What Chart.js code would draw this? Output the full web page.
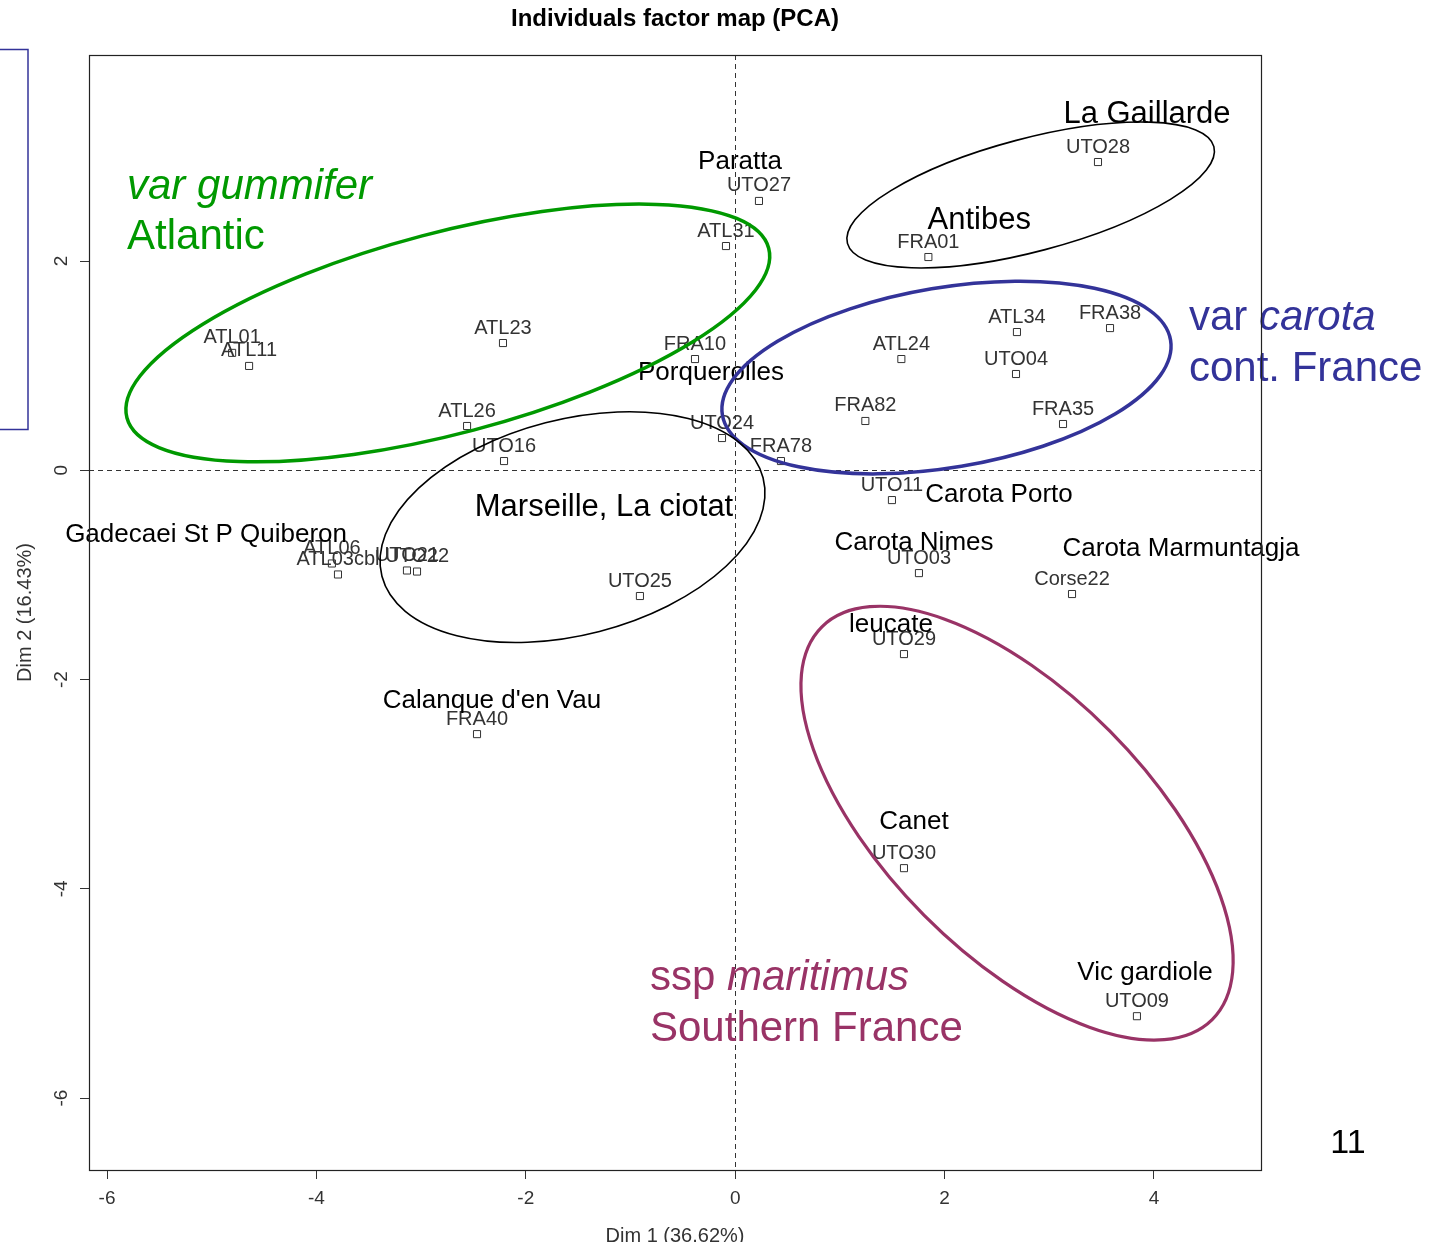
<!DOCTYPE html>
<html><head><meta charset="utf-8">
<script src="https://cdn.jsdelivr.net/npm/chart.js@4.4.1/dist/chart.umd.min.js"></script>
<style>html,body{margin:0;padding:0;background:#fff;overflow:hidden}</style>
</head><body>
<canvas id="c" width="1438" height="1242"></canvas>
<script>
// ---------- DATA ----------
const pointNames = ['ATL01','ATL11','ATL23','ATL26','UTO16','ATL06','ATL03cbl','UTO21','UTO22','UTO25','FRA40','UTO27','ATL31','FRA10','UTO24','FRA78','FRA82','ATL24','FRA01','UTO11','UTO28','ATL34','FRA38','UTO04','FRA35','UTO03','Corse22','UTO29','UTO30','UTO09'];
const dim1 = [-4.805,-4.643,-2.218,-2.561,-2.208,-3.852,-3.794,-3.135,-3.039,-0.91,-2.466,0.227,-0.088,-0.384,-0.126,0.437,1.243,1.587,1.845,1.497,3.465,2.691,3.580,2.682,3.131,1.755,3.217,1.612,1.612,3.837];
const dim2 = [1.122,0.997,1.216,0.423,0.088,-0.891,-0.996,-0.958,-0.968,-1.202,-2.522,2.574,2.143,1.063,0.308,0.088,0.471,1.063,2.038,-0.285,2.946,1.321,1.359,0.920,0.442,-0.983,-1.183,-1.757,-3.803,-5.218];

const placeLabels = ['Paratta','La Gaillarde','Antibes','Porquerolles','Marseille, La ciotat','Carota Porto','Gadecaei St P Quiberon','Carota Nimes','Carota Marmuntagja','leucate',"Calanque d'en Vau",'Canet','Vic gardiole'];
const placeDim1 = [0.046,3.933,2.331,-0.231,-1.253,2.520,-5.054,1.708,4.258,1.488,-2.323,1.708,3.914];
const placeDim2 = [2.946,3.400,2.386,0.929,-0.352,-0.238,-0.620,-0.696,-0.753,-1.480,-2.207,-3.364,-4.807];

const groupLines = [
  [['var gummifer', true]],
  [['Atlantic', false]],
  [['var ', false], ['carota', true]],
  [['cont. France', false]],
  [['ssp ', false], ['maritimus', true]],
  [['Southern France', false]]
];
const groupDim1 = [-5.809,-5.809,4.334,4.334,-0.814,-0.814];
const groupDim2 = [2.707,2.229,1.455,0.968,-4.857,-5.345];

const ellipseDim1 = [-2.745, 2.822, 2.018, -1.554, 2.692];
const ellipseDim2 = [1.312, 2.631, 0.886, -0.543, -3.373];
const ellipseA = [3.17, 1.81, 2.17, 1.88, 2.645];
const ellipseB = [0.96, 0.54, 0.86, 1.03, 1.25];
const ellipseAngle = [14.8, 14.8, 9.5, 14.5, -45.2];

const xTicks = [-6,-4,-2,0,2,4];
const yTicks = [-6,-4,-2,0,2];
const chartTitle = 'Individuals factor map (PCA)';
const xTitle = 'Dim 1 (36.62%)';
const yTitle = 'Dim 2 (16.43%)';
const pageNumber = '11';

// ---------- STYLE ----------
const FONT = '"Liberation Sans", Arial, Helvetica, sans-serif';
const GREEN = '#009900', BLUE = '#333399', PURPLE = '#993366';
const groupColors = [GREEN, GREEN, BLUE, BLUE, PURPLE, PURPLE];
const ellipseColors = [GREEN, '#000', BLUE, '#000', PURPLE];
const ellipseWidths = [3.5, 1.6, 3.5, 1.6, 3.2];
const bigPlaces = new Set(['La Gaillarde','Antibes','Marseille, La ciotat']);

const pcaPlugin = {
  id: 'pca',
  beforeDraw(chart) {
    const ctx = chart.ctx;
    ctx.save(); ctx.fillStyle = '#fff'; ctx.fillRect(0, 0, chart.width, chart.height); ctx.restore();
  },
  beforeDatasetsDraw(chart) {
    const ctx = chart.ctx, a = chart.chartArea, xs = chart.scales.x, ys = chart.scales.y;
    ctx.save();
    ctx.strokeStyle = '#333'; ctx.lineWidth = 1; ctx.setLineDash([5, 4]);
    const x0 = Math.round(xs.getPixelForValue(0)) + 0.5;
    const y0 = Math.round(ys.getPixelForValue(0)) + 0.5;
    ctx.beginPath(); ctx.moveTo(x0, a.top); ctx.lineTo(x0, a.bottom); ctx.stroke();
    ctx.beginPath(); ctx.moveTo(a.left, y0); ctx.lineTo(a.right, y0); ctx.stroke();
    ctx.restore();
  },
  afterDatasetsDraw(chart) {
    const ctx = chart.ctx, a = chart.chartArea, xs = chart.scales.x, ys = chart.scales.y;
    const kx = xs.getPixelForValue(1) - xs.getPixelForValue(0);
    const ky = ys.getPixelForValue(0) - ys.getPixelForValue(1);

    // point labels
    ctx.save();
    ctx.font = '20px ' + FONT; ctx.fillStyle = '#333'; ctx.textAlign = 'center'; ctx.textBaseline = 'middle';
    pointNames.forEach((n, i) => {
      ctx.fillText(n, xs.getPixelForValue(dim1[i]), ys.getPixelForValue(dim2[i]) - 15);
    });
    ctx.restore();

    // place labels
    ctx.save();
    ctx.fillStyle = '#000'; ctx.textAlign = 'center'; ctx.textBaseline = 'middle';
    placeLabels.forEach((n, i) => {
      ctx.font = (bigPlaces.has(n) ? '31px ' : '26px ') + FONT;
      ctx.fillText(n, xs.getPixelForValue(placeDim1[i]), ys.getPixelForValue(placeDim2[i]));
    });
    ctx.restore();

    // ellipses
    ellipseDim1.forEach((cx, i) => {
      ctx.save();
      ctx.beginPath();
      ctx.save();
      ctx.translate(xs.getPixelForValue(cx), ys.getPixelForValue(ellipseDim2[i]));
      ctx.scale(kx, -ky);
      ctx.rotate(ellipseAngle[i] * Math.PI / 180);
      ctx.ellipse(0, 0, ellipseA[i], ellipseB[i], 0, 0, Math.PI * 2);
      ctx.restore();
      ctx.strokeStyle = ellipseColors[i]; ctx.lineWidth = ellipseWidths[i];
      ctx.stroke();
      ctx.restore();
    });

    // group labels
    ctx.save();
    ctx.textBaseline = 'middle'; ctx.textAlign = 'left';
    groupLines.forEach((segs, i) => {
      let x = xs.getPixelForValue(groupDim1[i]);
      const y = ys.getPixelForValue(groupDim2[i]);
      ctx.fillStyle = groupColors[i];
      segs.forEach(([t, it]) => {
        ctx.font = (it ? 'italic ' : '') + '42px ' + FONT;
        ctx.fillText(t, x, y);
        x += ctx.measureText(t).width;
      });
    });
    ctx.restore();

    // plot box
    ctx.save();
    ctx.strokeStyle = '#222'; ctx.lineWidth = 1.2;
    ctx.strokeRect(a.left + 0.5, a.top + 0.5, a.right - a.left, a.bottom - a.top);
    ctx.restore();

    // tick labels
    ctx.save();
    ctx.font = '19px ' + FONT; ctx.fillStyle = '#333';
    ctx.textAlign = 'center'; ctx.textBaseline = 'middle';
    xTicks.forEach(v => ctx.fillText(String(v), xs.getPixelForValue(v), a.bottom + 29));
    yTicks.forEach(v => {
      ctx.save();
      ctx.translate(a.left - 27, ys.getPixelForValue(v));
      ctx.rotate(-Math.PI / 2);
      ctx.fillText(String(v), 0, 0);
      ctx.restore();
    });
    // axis titles
    ctx.font = '20px ' + FONT;
    ctx.fillText(xTitle, (a.left + a.right) / 2, a.bottom + 66);
    ctx.save();
    ctx.translate(a.left - 64, (a.top + a.bottom) / 2);
    ctx.rotate(-Math.PI / 2);
    ctx.fillText(yTitle, 0, 0);
    ctx.restore();
    // title
    ctx.font = 'bold 24px ' + FONT; ctx.fillStyle = '#000';
    ctx.fillText(chartTitle, (a.left + a.right) / 2, a.top - 36);
    // page number
    ctx.font = '34px ' + FONT;
    ctx.fillText(pageNumber, a.right + 87, a.bottom - 26);
    // side frame
    ctx.strokeStyle = BLUE; ctx.lineWidth = 1.5;
    ctx.strokeRect(-5, 49.5, 33, 380);
    ctx.restore();
  }
};

new Chart(document.getElementById('c'), {
  type: 'scatter',
  data: {
    datasets: [{
      data: pointNames.map((n, i) => ({ x: dim1[i], y: dim2[i] })),
      pointStyle: 'rect', radius: 5, hoverRadius: 5,
      borderColor: '#333', backgroundColor: '#fff', borderWidth: 1
    }]
  },
  options: {
    responsive: false, animation: false, devicePixelRatio: 1,
    layout: { padding: { left: 0, right: 177, top: 55, bottom: 0 } },
    plugins: { legend: { display: false }, tooltip: { enabled: false }, title: { display: false } },
    scales: {
      x: {
        type: 'linear', min: -6.172, max: 5.022,
        afterBuildTicks: s => { s.ticks = xTicks.map(v => ({ value: v })); },
        afterFit: s => { s.height = 72; },
        grid: { drawOnChartArea: false, drawTicks: true, tickLength: 9, color: '#333', lineWidth: 1 },
        border: { display: false },
        ticks: { display: false }
      },
      y: {
        type: 'linear', min: -6.688, max: 3.969,
        afterBuildTicks: s => { s.ticks = yTicks.map(v => ({ value: v })); },
        afterFit: s => { s.width = 89; },
        grid: { drawOnChartArea: false, drawTicks: true, tickLength: 9, color: '#333', lineWidth: 1 },
        border: { display: false },
        ticks: { display: false }
      }
    }
  },
  plugins: [pcaPlugin]
});
</script>
</body></html>
